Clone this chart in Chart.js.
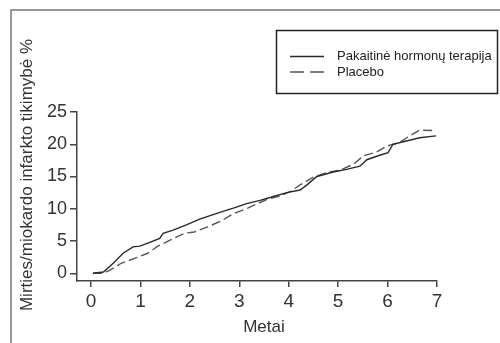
<!DOCTYPE html>
<html>
<head>
<meta charset="utf-8">
<script src="https://cdn.jsdelivr.net/npm/chart.js@4"></script>
<style>
  html, body { margin: 0; padding: 0; background: #fff; }
</style>
</head>
<body>
<canvas id="myChart" width="500" height="343"></canvas>
<script>
// Cumulative risk curves, years on x, % on y
const hrtYears = [0.04, 0.25, 0.45, 0.65, 0.85, 0.99, 1.19, 1.39, 1.46, 1.66, 1.93, 2.2, 2.47, 2.67, 2.88, 3.15, 3.42, 3.69, 3.96, 4.23, 4.37, 4.57, 4.9, 5.17, 5.44, 5.58, 5.84, 6.01, 6.11, 6.38, 6.65, 6.98];
const hrtRisk = [0.0, 0.2, 1.55, 3.1, 4.1, 4.2, 4.8, 5.4, 6.2, 6.7, 7.5, 8.4, 9.1, 9.6, 10.1, 10.8, 11.3, 11.9, 12.5, 12.9, 13.7, 15.0, 15.7, 16.1, 16.6, 17.6, 18.3, 18.7, 20.0, 20.5, 21.0, 21.3];
const placeboYears = [0.04, 0.25, 0.41, 0.61, 0.88, 1.15, 1.35, 1.62, 1.89, 2.09, 2.36, 2.63, 2.9, 3.17, 3.37, 3.57, 3.84, 4.04, 4.23, 4.5, 4.77, 5.04, 5.31, 5.51, 5.78, 5.98, 6.25, 6.45, 6.65, 6.98];
const placeboRisk = [0.0, 0.0, 0.6, 1.55, 2.3, 3.1, 4.2, 5.2, 6.2, 6.4, 7.2, 8.1, 9.3, 10.1, 10.8, 11.5, 12.0, 12.7, 13.7, 14.9, 15.6, 16.0, 16.9, 18.2, 18.8, 19.7, 20.3, 21.3, 22.2, 22.1];
const xTicks = [0, 1, 2, 3, 4, 5, 6, 7];
const yTicks = [0, 5, 10, 15, 20, 25];
const seriesLabels = ['Pakaitinė hormonų terapija', 'Placebo'];
const xTitle = 'Metai';
const yTitle = 'Mirties/miokardo infarkto tikimybė %';

const FONT = "'Liberation Sans', Arial, sans-serif";
const AXIS = '#444';

function toPoints(xs, ys) {
    return xs.map((x, i) => ({ x: x, y: ys[i] }));
}

// Frame, boxed legend and the two axis titles are painted by hand
const decorations = {
    id: 'decorations',
    afterDraw(chart) {
        const ctx = chart.ctx;
        const x = chart.scales.x;
        ctx.save();

        // outer frame: left and top edges only
        ctx.strokeStyle = '#777';
        ctx.lineWidth = 1.5;
        ctx.beginPath();
        ctx.moveTo(11, 343);
        ctx.lineTo(11, 10);
        ctx.lineTo(500, 10);
        ctx.stroke();

        // legend box
        ctx.strokeStyle = '#222';
        ctx.lineWidth = 1.5;
        ctx.strokeRect(276.5, 30.5, 221, 63);
        chart.data.datasets.forEach((ds, i) => {
            const ly = 56.5 + i * 15.5;
            ctx.strokeStyle = ds.borderColor;
            ctx.lineWidth = 1.3;
            ctx.setLineDash(i === 0 ? [] : [14, 6]);
            ctx.beginPath();
            ctx.moveTo(290, ly);
            ctx.lineTo(324, ly);
            ctx.stroke();
            ctx.setLineDash([]);
            ctx.fillStyle = '#222';
            ctx.font = '13px ' + FONT;
            ctx.textAlign = 'left';
            ctx.textBaseline = 'middle';
            ctx.fillText(ds.label, 337, ly);
        });

        // x title under the 0..7 range
        ctx.fillStyle = '#333';
        ctx.font = '17px ' + FONT;
        ctx.textAlign = 'center';
        ctx.textBaseline = 'middle';
        const mid = (x.getPixelForValue(xTicks[0]) + x.getPixelForValue(xTicks[xTicks.length - 1])) / 2;
        ctx.fillText(xTitle, mid, 327);

        // y title, rotated
        ctx.translate(27, 175);
        ctx.rotate(-Math.PI / 2);
        ctx.fillText(yTitle, 0, 0);
        ctx.restore();
    }
};

const ctx = document.getElementById('myChart');
const myChart = new Chart(ctx, {
    type: 'line',
    data: {
        datasets: [
            {
                label: seriesLabels[0],
                data: toPoints(hrtYears, hrtRisk),
                borderColor: '#2a2a2a',
                borderWidth: 1.4,
                pointRadius: 0,
                tension: 0
            },
            {
                label: seriesLabels[1],
                data: toPoints(placeboYears, placeboRisk),
                borderColor: '#555',
                borderWidth: 1.4,
                borderDash: [9, 4],
                pointRadius: 0,
                tension: 0
            }
        ]
    },
    options: {
        responsive: false,
        animation: false,
        devicePixelRatio: 1,
        layout: { padding: { left: 37, right: 63, top: 112, bottom: 32 } },
        plugins: {
            legend: { display: false },
            tooltip: { enabled: false }
        },
        scales: {
            x: {
                type: 'linear',
                min: -0.283,
                max: 7,
                afterBuildTicks: (scale) => { scale.ticks = xTicks.map(v => ({ value: v })); },
                afterFit: (scale) => { scale.height = 30; },
                grid: { drawOnChartArea: false, drawTicks: true, tickLength: 6, color: AXIS, lineWidth: 1.5 },
                border: { display: true, color: AXIS, width: 1.5 },
                ticks: { color: '#333', padding: 3, maxRotation: 0, font: { family: FONT, size: 19 } }
            },
            y: {
                type: 'linear',
                min: -1.2,
                max: 25,
                afterBuildTicks: (scale) => { scale.ticks = yTicks.map(v => ({ value: v })); },
                afterFit: (scale) => { scale.width = 40; },
                grid: { drawOnChartArea: false, drawTicks: true, tickLength: 7, color: AXIS, lineWidth: 1.5 },
                border: { display: true, color: AXIS, width: 1.5 },
                ticks: { color: '#333', padding: 3, font: { family: FONT, size: 18 } }
            }
        }
    },
    plugins: [decorations]
});
</script>
</body>
</html>
